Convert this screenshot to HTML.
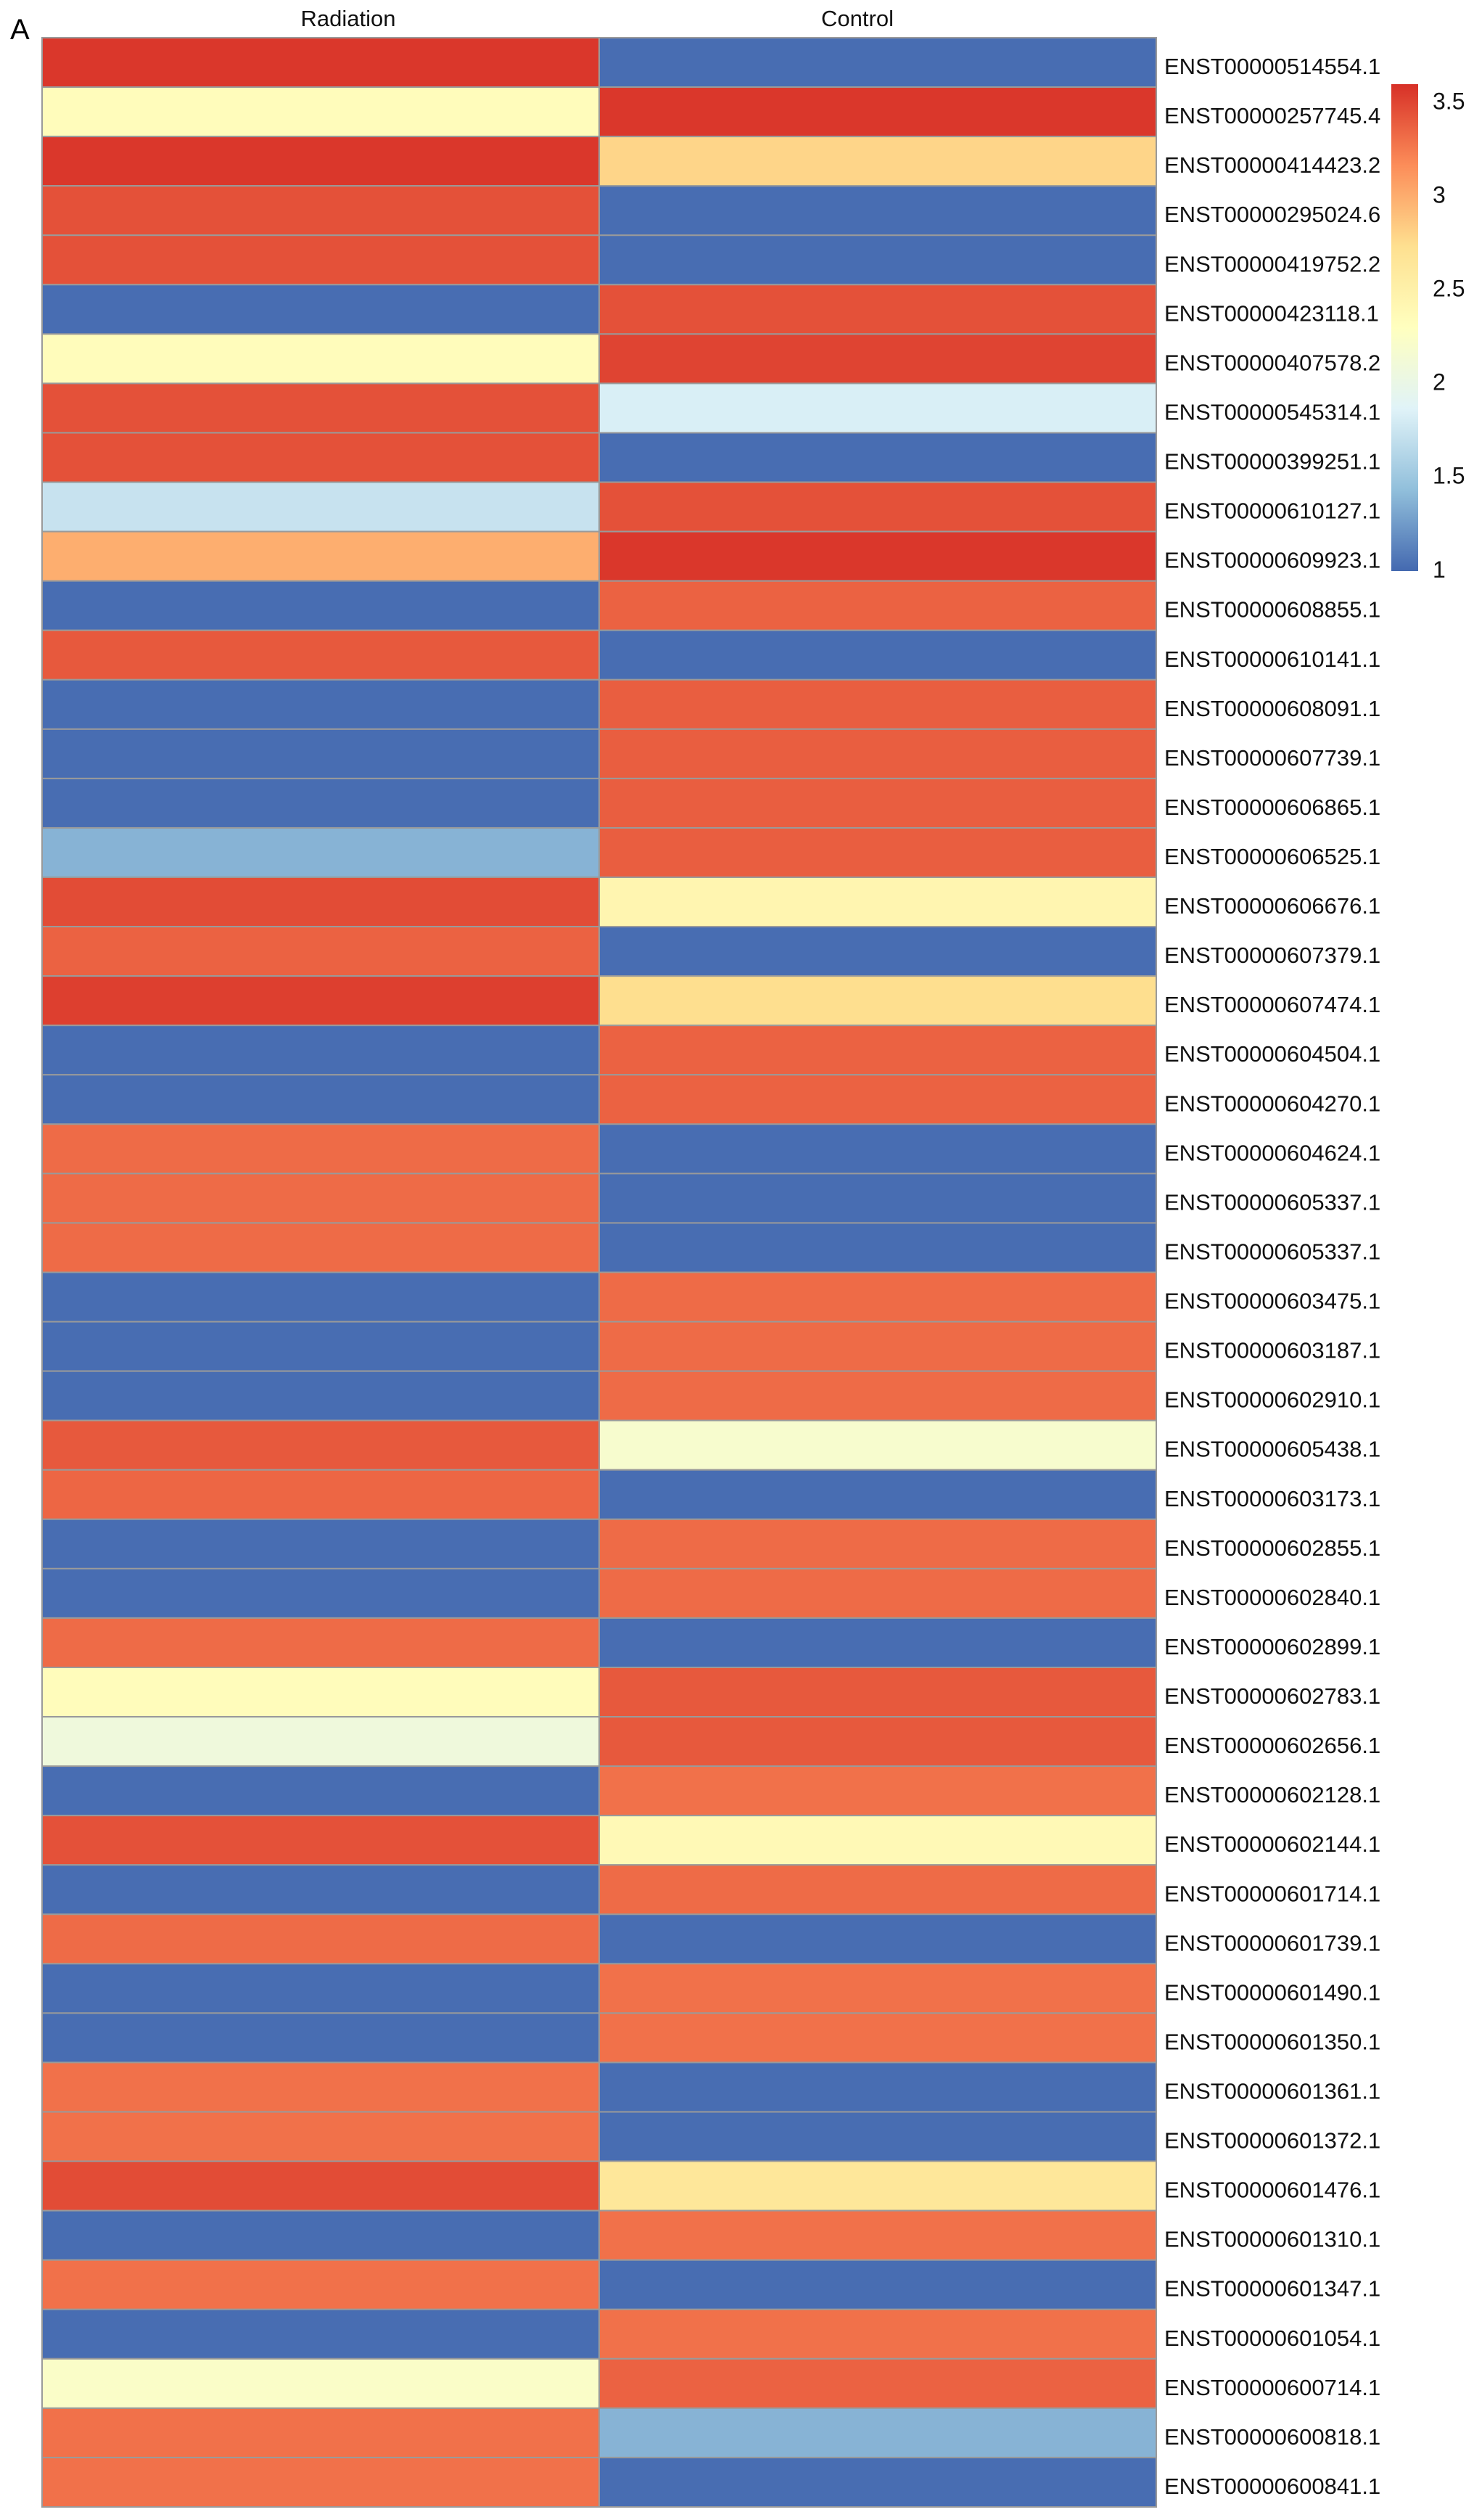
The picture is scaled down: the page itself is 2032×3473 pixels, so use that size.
<!DOCTYPE html>
<html><head><meta charset="utf-8"><style>
html,body{margin:0;padding:0;background:#fff;}
svg{display:block;font-family:"Liberation Sans",sans-serif;}
</style></head><body>
<svg id="chart" width="2032" height="3473" viewBox="0 0 2032 3473">
<text x="14" y="54" font-size="40" fill="#000">A</text>
<g id="cells"></g>
<g id="labels"></g>
<g id="cols"></g>
<defs><linearGradient id="cbg" x1="0" y1="1" x2="0" y2="0"></linearGradient></defs>
<g id="legend"></g>
</svg>
<script>
const columns = ["Radiation","Control"];
const rowNames = ["ENST00000514554.1","ENST00000257745.4","ENST00000414423.2","ENST00000295024.6","ENST00000419752.2","ENST00000423118.1","ENST00000407578.2","ENST00000545314.1","ENST00000399251.1","ENST00000610127.1","ENST00000609923.1","ENST00000608855.1","ENST00000610141.1","ENST00000608091.1","ENST00000607739.1","ENST00000606865.1","ENST00000606525.1","ENST00000606676.1","ENST00000607379.1","ENST00000607474.1","ENST00000604504.1","ENST00000604270.1","ENST00000604624.1","ENST00000605337.1","ENST00000605337.1","ENST00000603475.1","ENST00000603187.1","ENST00000602910.1","ENST00000605438.1","ENST00000603173.1","ENST00000602855.1","ENST00000602840.1","ENST00000602899.1","ENST00000602783.1","ENST00000602656.1","ENST00000602128.1","ENST00000602144.1","ENST00000601714.1","ENST00000601739.1","ENST00000601490.1","ENST00000601350.1","ENST00000601361.1","ENST00000601372.1","ENST00000601476.1","ENST00000601310.1","ENST00000601347.1","ENST00000601054.1","ENST00000600714.1","ENST00000600818.1","ENST00000600841.1"];
const radiation = [3.52,2.3,3.52,3.4,3.4,1.0,2.3,3.4,3.4,1.7,2.95,1.0,3.36,1.0,1.0,1.0,1.35,3.42,3.32,3.48,1.0,1.0,3.28,3.28,3.28,1.0,1.0,1.0,3.36,3.3,1.0,1.0,3.28,2.3,2.05,1.0,3.4,1.0,3.28,1.0,1.0,3.25,3.25,3.42,1.0,3.25,1.0,2.2,3.25,3.25];
const control = [1.0,3.52,2.75,1.0,1.0,3.4,3.46,1.8,1.0,3.4,3.52,3.32,1.0,3.34,3.34,3.34,3.34,2.4,1.0,2.7,3.32,3.32,1.0,1.0,1.0,3.28,3.28,3.28,2.15,1.0,3.28,3.28,1.0,3.36,3.36,3.25,2.35,3.28,1.0,3.25,3.25,1.0,1.0,2.6,3.25,1.0,3.25,3.32,1.35,1.0];
const legendTicks = [1,1.5,2,2.5,3,3.5];
const vmin = 0.98, vmax = 3.55;
const pal = ["#4469B0","#91BFDB","#E0F3F8","#FFFFBF","#FEE090","#FC8D59","#D73027"];
const NS = "http://www.w3.org/2000/svg";
const X0 = 58, X1 = 1594, Y0 = 52, Y1 = 3455;
const cw = (X1 - X0) / columns.length, rh = (Y1 - Y0) / rowNames.length;
const titleShift = [38, -28];
function xPos(ci){return X0 + ci*cw;}
function yPos(ri){return Y0 + ri*rh;}
function hex(h){return [1,3,5].map(i=>parseInt(h.substr(i,2),16));}
function color(v){
  let t=(v-vmin)/(vmax-vmin); t=Math.max(0,Math.min(1,t));
  const p=t*(pal.length-1), i=Math.min(pal.length-2,Math.floor(p)), f=p-i;
  const a=hex(pal[i]), b=hex(pal[i+1]);
  return "rgb("+a.map((c,k)=>Math.round(c+(b[k]-c)*f)).join(",")+")";
}
function mk(tag, attrs, parent){const e=document.createElementNS(NS,tag);for(const k in attrs)e.setAttribute(k,attrs[k]);parent.appendChild(e);return e;}
const cells=document.getElementById("cells"), labels=document.getElementById("labels"), cols=document.getElementById("cols");
const series=[radiation,control];
series.forEach((vals,ci)=>{
  vals.forEach((v,ri)=>{
    const r=mk("rect",{x:xPos(ci),y:yPos(ri),width:cw,height:rh,fill:color(v),stroke:"#9a9a9a","stroke-width":2},cells);
    
    
  });
});
rowNames.forEach((n,ri)=>{
  const t=mk("text",{x:1605,y:yPos(ri)+rh/2+16,"font-size":31,fill:"#111"},labels);
  t.textContent=n;
  
  
});
columns.forEach((c,ci)=>{
  const t=mk("text",{x:xPos(ci)+cw/2+titleShift[ci],y:36,"font-size":31,fill:"#111","text-anchor":"middle"},cols);
  t.textContent=c;
  
  
});
const g=document.getElementById("cbg");
pal.forEach((c,i)=>{mk("stop",{offset:(i/(pal.length-1)*100)+"%","stop-color":c},g);});
const leg=document.getElementById("legend");
const LB0=787, LB1=116;
function lY(v){return LB0-(v-vmin)/(vmax-vmin)*(LB0-LB1);}
const bar=mk("rect",{x:1918,y:LB1,width:37,height:LB0-LB1,fill:"url(#cbg)"},leg);


legendTicks.forEach(v=>{
  const t=mk("text",{x:1975,y:lY(v)+14+(v-1)*3,"font-size":32,fill:"#111"},leg);
  t.textContent=String(v);
  
  
});
</script>
</body></html>
